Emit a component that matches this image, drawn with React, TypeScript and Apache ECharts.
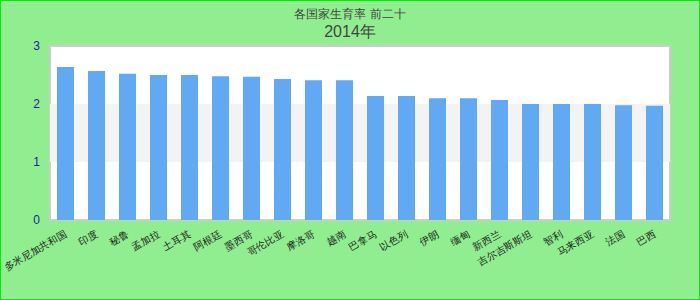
import React, { useEffect, useRef } from "react";
import * as echarts from "echarts";

const titleText = "各国家生育率 前二十";
const subtitleText = "2014年";
const categories = [
  "多米尼加共和国", "印度", "秘鲁", "孟加拉", "土耳其", "阿根廷", "墨西哥",
  "哥伦比亚", "摩洛哥", "越南", "巴拿马", "以色列", "伊朗", "缅甸", "新西兰",
  "吉尔吉斯斯坦", "智利", "马来西亚", "法国", "巴西",
];
const values = [
  2.64, 2.57, 2.52, 2.5, 2.5, 2.48, 2.47, 2.43, 2.41, 2.41,
  2.14, 2.14, 2.1, 2.1, 2.07, 2.0, 2.0, 2.0, 1.98, 1.97,
];
const yTicks = [0, 1, 2, 3];

export default function App() {
  const ref = useRef<HTMLDivElement>(null);
  useEffect(() => {
    if (!ref.current) return;
    const chart = echarts.init(ref.current, null, { renderer: "svg" });
    chart.setOption({
      animation: false,
      backgroundColor: "#90ee90",
      title: {
        text: titleText,
        subtext: subtitleText,
        left: "center",
        top: 3,
        itemGap: 3,
        textStyle: { fontSize: 12, fontWeight: "normal", color: "#444" },
        subtextStyle: { fontSize: 16, color: "#444" },
      },
      graphic: [
        {
          type: "rect",
          silent: true,
          shape: { x: 0.5, y: 0.5, width: 699, height: 299 },
          style: { fill: "none", stroke: "#00ee00", lineWidth: 1 },
        },
      ],
      grid: {
        left: 50,
        right: 30,
        top: 46,
        bottom: 80,
        containLabel: false,
        outerBoundsMode: "none",
        show: true,
        backgroundColor: "#ffffff",
        borderColor: "#cccccc",
        borderWidth: 2,
      },
      xAxis: {
        type: "category",
        data: categories,
        axisLine: { show: false },
        axisTick: { show: false },
        axisLabel: {
          rotate: 30,
          interval: 0,
          fontSize: 10,
          color: "#222",
          margin: 13,
        },
      },
      yAxis: {
        type: "value",
        min: yTicks[0],
        max: yTicks[yTicks.length - 1],
        interval: 1,
        axisLine: { show: false },
        axisTick: { show: false },
        splitLine: { show: false },
        splitArea: { show: true, areaStyle: { color: ["rgba(255,255,255,0)", "#f3f3f3"] } },
        axisLabel: { color: "#22229a", fontSize: 12, margin: 10 },
      },
      series: [
        {
          type: "bar",
          data: values,
          barWidth: 17,
          itemStyle: { color: "#62a9f4" },
        },
      ],
    });
    return () => chart.dispose();
  }, []);
  return (
    <div style={{ position: "fixed", left: 0, top: 0, width: 700, height: 300 }}>
      <div ref={ref} style={{ width: 700, height: 300 }} />
    </div>
  );
}
